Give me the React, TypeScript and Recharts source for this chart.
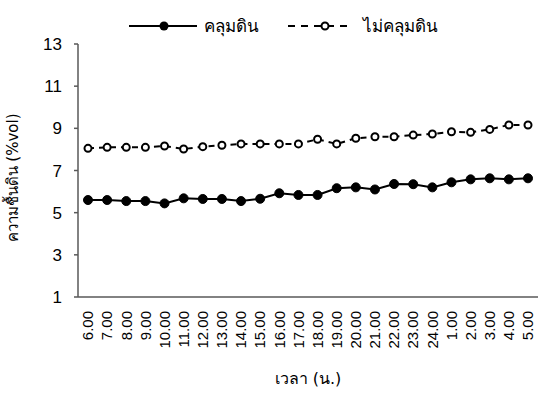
import React from 'react';
import { LineChart, Line, XAxis, YAxis, Legend, Label } from 'recharts';

const times = ['6.00','7.00','8.00','9.00','10.00','11.00','12.00','13.00','14.00','15.00','16.00','17.00','18.00','19.00','20.00','21.00','22.00','23.00','24.00','1.00','2.00','3.00','4.00','5.00'];
const covered = [5.6,5.6,5.55,5.55,5.44,5.68,5.65,5.65,5.55,5.66,5.92,5.84,5.84,6.16,6.2,6.1,6.36,6.35,6.2,6.44,6.58,6.63,6.58,6.63];
const uncovered = [8.05,8.1,8.1,8.1,8.16,8.02,8.13,8.2,8.26,8.26,8.26,8.26,8.48,8.26,8.53,8.6,8.6,8.68,8.73,8.84,8.81,8.95,9.16,9.16];
const yTicks = [1,3,5,7,9,11,13];
const seriesNames = ['คลุมดิน', 'ไม่คลุมดิน'];

const data = times.map((t, i) => ({ t, a: covered[i], b: uncovered[i] }));

const FONT = "Tahoma, 'DejaVu Sans', 'Noto Sans', sans-serif";
const NUMFONT = "'Liberation Sans', Arial, sans-serif";
const AXIS = '#595959';

const XTick = (props: any) => {
  const { x, y, payload } = props;
  return (
    <text x={x} y={y} transform={`rotate(-90 ${x} ${y})`} textAnchor="end" dy="0.35em" fontSize={15} fill="#000" fontFamily={NUMFONT}>
      {payload.value}
    </text>
  );
};

const LegendContent = () => (
  <svg width={542} height={40} style={{ display: 'block' }}>
    <line x1={129} y1={26} x2={197} y2={26} stroke="#000" strokeWidth={2} />
    <circle cx={164} cy={26} r={4.5} fill="#000" />
    <text x={204} y={26} dy="0.35em" fontSize={17} fontFamily={FONT} fill="#000">{seriesNames[0]}</text>
    <line x1={288} y1={26} x2={352} y2={26} stroke="#000" strokeWidth={2} strokeDasharray="7 6" />
    <circle cx={325} cy={26} r={3.5} fill="#fff" stroke="#000" strokeWidth={2} />
    <text x={363} y={26} dy="0.35em" fontSize={17} fontFamily={FONT} fill="#000">{seriesNames[1]}</text>
  </svg>
);

export default function App() {
  return (
    <div style={{ position: 'absolute', left: 0, top: 0, width: 542, height: 394, background: '#fff' }}>
      <LineChart width={542} height={394} data={data} margin={{ top: 44, right: 4, bottom: 0, left: 0 }}>
        <Legend verticalAlign="middle" layout="horizontal" content={<LegendContent />} wrapperStyle={{ top: 0, left: 0, width: 542, height: 40 }} />
        <XAxis dataKey="t" interval={0} tickLine={false} height={97} tick={<XTick />} tickMargin={8} stroke={AXIS} strokeWidth={1.5}
          padding={{ left: 10, right: 10 }}>
          <Label value="เวลา (น.)" position="insideBottom" offset={10} fontSize={16} fill="#000" fontFamily={FONT} />
        </XAxis>
        <YAxis domain={[1, 13]} ticks={yTicks} width={78} tickSize={4} tickMargin={12} stroke={AXIS} strokeWidth={1.5}
          tick={{ fontSize: 17, fill: '#000', fontFamily: NUMFONT }}>
          <Label value="ความชื้นดิน (%vol)" angle={-90} position={{ x: 18, y: 134 } as any} textAnchor="middle" verticalAnchor="middle" fontSize={15} fill="#000" fontFamily={FONT} />
        </YAxis>
        <Line dataKey="a" stroke="#000" strokeWidth={2} isAnimationActive={false}
          dot={{ r: 4.5, fill: '#000', stroke: '#000', strokeWidth: 1 }} />
        <Line dataKey="b" stroke="#000" strokeWidth={2} strokeDasharray="6 5" isAnimationActive={false}
          dot={{ r: 3.5, fill: '#fff', stroke: '#000', strokeWidth: 2, strokeDasharray: '0' }} />
      </LineChart>
    </div>
  );
}
